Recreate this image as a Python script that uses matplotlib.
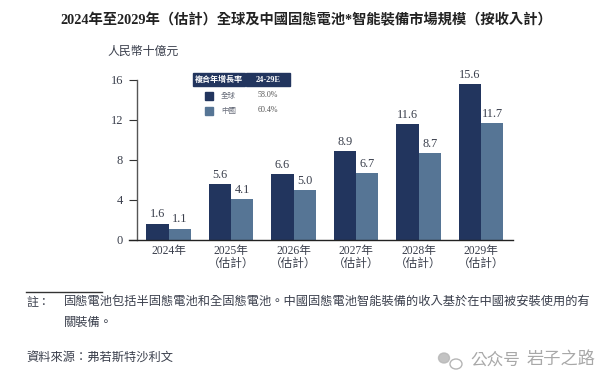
import matplotlib
matplotlib.use("Agg")
import matplotlib.pyplot as plt
from matplotlib.patches import Rectangle, Ellipse
import numpy as np

W, H = 612, 379
NAVY = "#22355e"
BLUE = "#567595"
INK = "#3a3f4c"
plt.rcParams['font.family'] = ['Liberation Serif', 'Noto Sans CJK TC', 'DejaVu Sans']

LP, RP, COLON = "\uff08", "\uff09", "\uff1a"
est = LP + "估計" + RP
years = ["2024年", "2025年\n" + est, "2026年\n" + est, "2027年\n" + est, "2028年\n" + est, "2029年\n" + est]
global_vals = [1.6, 5.6, 6.6, 8.9, 11.6, 15.6]
china_vals = [1.1, 4.1, 5.0, 6.7, 8.7, 11.7]
yticks = [0, 4, 8, 12, 16]
title = "2024年至2029年" + est + "全球及中國固態電池*智能裝備市場規模" + LP + "按收入計" + RP
unit = "人民幣十億元"
legend_head = ["複合年增長率", "24-29E"]
legend_names = ["全球", "中國"]
legend_cagr = ["58.0%", "60.4%"]
note_label = "註" + COLON
note1 = "固態電池包括半固態電池和全固態電池。中國固態電池智能裝備的收入基於在中國被安裝使用的有"
note2 = "關裝備。"
source = "資料來源" + COLON + "弗若斯特沙利文"
mark_a = "公众号"
mark_b = "岩子之路"

fig = plt.figure(figsize=(W / 100, H / 100), dpi=100, facecolor="white")

def fx(x): return x / W
def fy(y): return 1 - y / H
def ftext(x, y, s, **kw):
    kw.setdefault("va", "center")
    kw.setdefault("color", INK)
    return fig.text(fx(x), fy(y), s, **kw)

L, R, T, B = 136.7, 518, 80, 239.5
ax = fig.add_axes([fx(L), fy(B), (R - L) / W, (B - T) / H])
spacing = 62.5
c0 = 168.5
ax.set_xlim((L - c0) / spacing, (R - c0) / spacing)
ax.set_ylim(0, 16)
x = np.arange(len(years))
w = 22.4 / spacing
ax.bar(x - w / 2, global_vals, w, color=NAVY)
ax.bar(x + w / 2, china_vals, w, color=BLUE)
for i, (g, c) in enumerate(zip(global_vals, china_vals)):
    ax.annotate(f"{g:.1f}", (i - w / 2, g), xytext=(0, 2.2), textcoords="offset points",
                ha="center", va="bottom", fontsize=8.8, color=INK)
    ax.annotate(f"{c:.1f}", (i + w / 2, c), xytext=(0, 2.2), textcoords="offset points",
                ha="center", va="bottom", fontsize=8.8, color=INK)
for s in ("top", "right", "bottom"):
    ax.spines[s].set_visible(False)
ax.spines["left"].set_color("#555555")
ax.spines["left"].set_linewidth(1.0)
ax.plot([-0.632, 5.507], [0, 0], color="#222222", lw=1.0, clip_on=False, zorder=5)
ax.set_yticks(yticks)
ax.tick_params(axis="y", length=5.8, width=0.8, color="#333333", labelsize=9, labelcolor=INK, pad=4)
ax.set_xticks(x)
ax.set_xticklabels(years, fontsize=8.4, color=INK, linespacing=1.1)
ax.tick_params(axis="x", length=0, pad=4)

ftext(306, 20, title, ha="center", fontsize=10.3, fontweight="bold", color="#222222")
ftext(107, 52, unit, fontsize=8.6)

# legend table
fig.patches.append(Rectangle((fx(193), fy(86)), 52 / W, 13 / H, color=NAVY, transform=fig.transFigure))
fig.patches.append(Rectangle((fx(246), fy(86)), 44 / W, 13 / H, color=NAVY, transform=fig.transFigure))
ftext(219, 79.5, legend_head[0], ha="center", fontsize=5.8, color="white", fontweight="bold")
ftext(268, 79.5, legend_head[1], ha="center", fontsize=6, color="white", fontweight="bold")
for yy, col, n, v in zip((96, 111), (NAVY, BLUE), legend_names, legend_cagr):
    fig.patches.append(Rectangle((fx(205), fy(yy + 4)), 8 / W, 8 / H, color=col, transform=fig.transFigure))
    ftext(221, yy - 1, n, fontsize=5.4, color="#6a6f7c")
    ftext(268, yy - 1, v, ha="center", fontsize=5.8, color="#555555")

# footnotes
fig.add_artist(plt.Line2D([fx(26), fx(102)], [fy(292), fy(292)], color="#333333", lw=1))
ftext(26, 303, note_label, fontsize=8.6)
ftext(64, 303, note1, fontsize=8.8)
ftext(64, 323, note2, fontsize=8.8)
ftext(26, 359, source, fontsize=8.8)

# watermark
fig.patches.append(Ellipse((fx(444), fy(358)), 11 / W, 10 / H, color="#b5b5b5", alpha=0.8, transform=fig.transFigure))
fig.patches.append(Ellipse((fx(456), fy(364)), 12 / W, 10 / H, fc="none", ec="#b5b5b5", lw=1, transform=fig.transFigure))
ftext(470, 361, mark_a, fontsize=12, color="#a8a8a8")
ftext(527, 361, mark_b, fontsize=12.4, color="#a8a8a8")

fig.savefig("out.png", dpi=100)
